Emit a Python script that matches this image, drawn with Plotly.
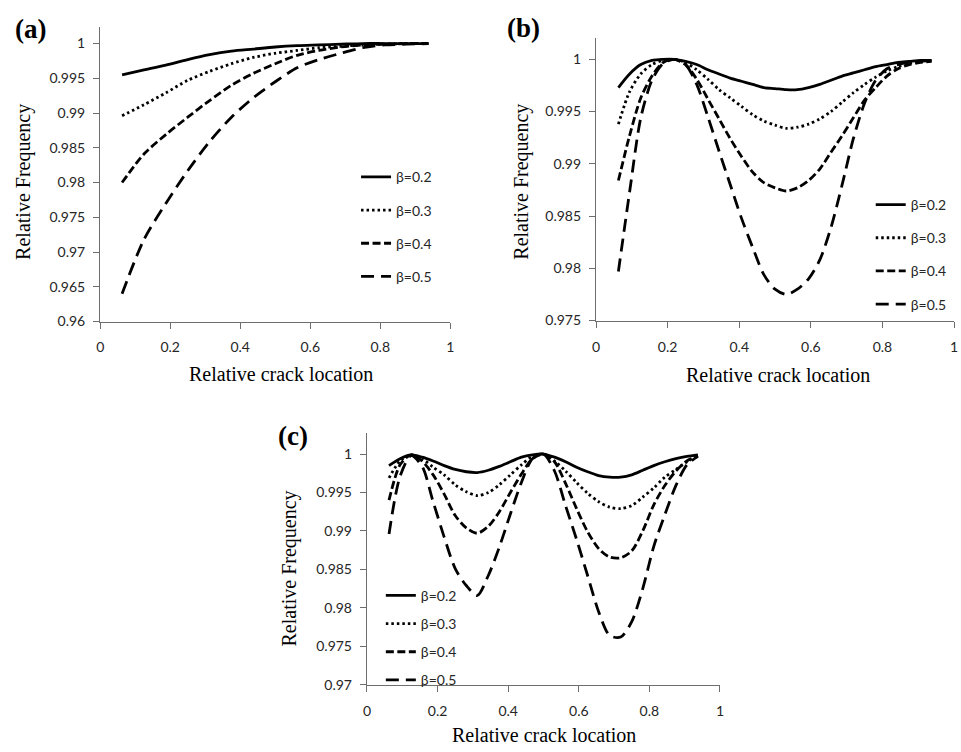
import plotly.graph_objects as go

# ---------------- data ----------------
x_a = [0.0625, 0.125, 0.1875, 0.25, 0.3125, 0.375, 0.4375, 0.5,
       0.5625, 0.625, 0.6875, 0.75, 0.8125, 0.875, 0.9375]
a_b02 = [0.9955, 0.9962, 0.9969, 0.9977, 0.9984, 0.9989, 0.9992, 0.9995,
         0.9997, 0.9998, 0.9999, 1.0000, 1.0000, 1.0000, 1.0000]
a_b03 = [0.9896, 0.9912, 0.9929, 0.9947, 0.9960, 0.9971, 0.9980, 0.9986,
         0.9990, 0.9994, 0.9996, 0.9998, 0.9999, 1.0000, 1.0000]
a_b04 = [0.9800, 0.9841, 0.9869, 0.9894, 0.9918, 0.9940, 0.9957, 0.9971,
         0.9983, 0.9990, 0.9995, 0.9998, 0.9999, 1.0000, 1.0000]
a_b05 = [0.9640, 0.9718, 0.9770, 0.9817, 0.9859, 0.9894, 0.9922, 0.9945,
         0.9965, 0.9977, 0.9986, 0.9994, 0.9998, 0.9999, 1.0000]

x_bc = [0.0625, 0.09375, 0.125, 0.15625, 0.1875, 0.21875, 0.25, 0.28125,
        0.3125, 0.34375, 0.375, 0.40625, 0.4375, 0.46875, 0.5, 0.53125,
        0.5625, 0.59375, 0.625, 0.65625, 0.6875, 0.71875, 0.75, 0.78125,
        0.8125, 0.84375, 0.875, 0.90625, 0.9375]

b_b02 = [0.9973, 0.9986, 0.9995, 0.9999, 1.0000, 1.0000, 0.9998, 0.9995,
         0.9990, 0.9986, 0.9982, 0.9979, 0.9976, 0.9973, 0.9972, 0.9971,
         0.9971, 0.9973, 0.9976, 0.9980, 0.9984, 0.9987, 0.9990, 0.9993,
         0.9995, 0.9997, 0.9998, 0.9999, 0.9999]
b_b03 = [0.9938, 0.9969, 0.9986, 0.9995, 0.9999, 1.0000, 0.9997, 0.9990,
         0.9981, 0.9971, 0.9963, 0.9955, 0.9947, 0.9941, 0.9937, 0.9934,
         0.9935, 0.9938, 0.9943, 0.9950, 0.9959, 0.9968, 0.9976, 0.9983,
         0.9989, 0.9993, 0.9996, 0.9998, 0.9999]
b_b04 = [0.9884, 0.9927, 0.9963, 0.9984, 0.9997, 1.0000, 0.9995, 0.9981,
         0.9962, 0.9943, 0.9924, 0.9907, 0.9892, 0.9882, 0.9877, 0.9874,
         0.9877, 0.9884, 0.9895, 0.9911, 0.9927, 0.9944, 0.9961, 0.9973,
         0.9984, 0.9991, 0.9995, 0.9997, 0.9998]
b_b05 = [0.9797, 0.9873, 0.9944, 0.9980, 0.9996, 1.0000, 0.9995, 0.9976,
         0.9945, 0.9912, 0.9880, 0.9848, 0.9820, 0.9794, 0.9780, 0.9775,
         0.9780, 0.9790, 0.9808, 0.9839, 0.9880, 0.9924, 0.9958, 0.9980,
         0.9991, 0.9995, 0.9997, 0.9998, 0.9999]

c_b02 = [0.9985, 0.9994, 0.9999, 0.9996, 0.9991, 0.9985, 0.9980, 0.9977,
         0.9976, 0.9979, 0.9984, 0.9990, 0.9996, 0.9999, 1.0000, 0.9996,
         0.9990, 0.9983, 0.9977, 0.9972, 0.9970, 0.9970, 0.9973, 0.9979,
         0.9985, 0.9990, 0.9994, 0.9997, 0.9999]
c_b03 = [0.9969, 0.9991, 0.9999, 0.9994, 0.9983, 0.9973, 0.9960, 0.9951,
         0.9946, 0.9950, 0.9960, 0.9973, 0.9986, 0.9997, 1.0000, 0.9991,
         0.9978, 0.9963, 0.9949, 0.9938, 0.9931, 0.9929, 0.9933, 0.9944,
         0.9956, 0.9970, 0.9980, 0.9990, 0.9998]
c_b04 = [0.9940, 0.9986, 0.9999, 0.9991, 0.9973, 0.9948, 0.9920, 0.9904,
         0.9897, 0.9906, 0.9925, 0.9950, 0.9974, 0.9994, 1.0000, 0.9990,
         0.9962, 0.9929, 0.9899, 0.9877, 0.9866, 0.9865, 0.9874, 0.9900,
         0.9934, 0.9959, 0.9978, 0.9991, 0.9998]
c_b05 = [0.9896, 0.9971, 0.9998, 0.9984, 0.9938, 0.9892, 0.9851, 0.9829,
         0.9816, 0.9842, 0.9879, 0.9922, 0.9963, 0.9994, 1.0000, 0.9978,
         0.9933, 0.9889, 0.9842, 0.9795, 0.9764, 0.9762, 0.9782, 0.9825,
         0.9880, 0.9921, 0.9959, 0.9986, 0.9997]

series_names = ["β=0.2", "β=0.3", "β=0.4", "β=0.5"]
x_tickvals = [0, 0.2, 0.4, 0.6, 0.8, 1]
x_ticktext = ["0", "0.2", "0.4", "0.6", "0.8", "1"]
ya_tickvals = [0.96, 0.965, 0.97, 0.975, 0.98, 0.985, 0.99, 0.995, 1.0]
ya_ticktext = ["0.96", "0.965", "0.97", "0.975", "0.98", "0.985", "0.99", "0.995", "1"]
yb_tickvals = [0.975, 0.98, 0.985, 0.99, 0.995, 1.0]
yb_ticktext = ["0.975", "0.98", "0.985", "0.99", "0.995", "1"]
yc_tickvals = [0.97, 0.975, 0.98, 0.985, 0.99, 0.995, 1.0]
yc_ticktext = ["0.97", "0.975", "0.98", "0.985", "0.99", "0.995", "1"]

# ---------------- styling ----------------
W, H = 961, 752
dashes = ["solid", "2.5px,3px", "8px,3.5px", "13px,7px"]
LW = 2.8
tick_font = dict(family="Lato, Open Sans, sans-serif", size=14, color="#262626")
serif = "Liberation Serif, Times New Roman, serif"
axis_col = "#6e6e6e"

fig = go.Figure()

panels = [
    ("x", "y", "legend", x_a, [a_b02, a_b03, a_b04, a_b05], "a"),
    ("x2", "y2", "legend2", x_bc, [b_b02, b_b03, b_b04, b_b05], "b"),
    ("x3", "y3", "legend3", x_bc, [c_b02, c_b03, c_b04, c_b05], "c"),
]
for xa, ya, lg, xs, ys_list, tag in panels:
    for i, ys in enumerate(ys_list):
        fig.add_trace(go.Scatter(
            x=xs, y=ys, mode="lines", name=series_names[i],
            line=dict(color="black", width=LW, dash=dashes[i], shape="spline", smoothing=0.8),
            xaxis=xa, yaxis=ya, legend=lg, legendgroup=f"{tag}{i}",
            showlegend=True,
        ))

def px_x(p):
    return p / W

def px_y(p):
    return 1 - p / H

def xaxis_cfg(x0, x1, anchor):
    return dict(domain=[px_x(x0), px_x(x1)], range=[0, 1], anchor=anchor,
                tickvals=x_tickvals, ticktext=x_ticktext, ticks="outside",
                ticklen=6, tickwidth=1.3, tickcolor=axis_col, showline=True,
                linecolor=axis_col, linewidth=1.3, showgrid=False, zeroline=False,
                tickfont=tick_font, ticklabelstandoff=7, fixedrange=True)

def yaxis_cfg(y_top, y_bot, rng, tv, tt, anchor):
    return dict(domain=[px_y(y_bot), px_y(y_top)], range=rng, anchor=anchor,
                tickvals=tv, ticktext=tt, ticks="outside", ticklen=6, tickwidth=1.3,
                tickcolor=axis_col, showline=True, linecolor=axis_col, linewidth=1.3,
                showgrid=False, zeroline=False, tickfont=tick_font,
                ticklabelstandoff=5, fixedrange=True)

legend_common = dict(font=dict(family="Lato, Open Sans, sans-serif", size=14, color="#262626"),
                     bgcolor="rgba(0,0,0,0)", xanchor="left", yanchor="top",
                     traceorder="grouped")

fig.update_layout(
    width=W, height=H, margin=dict(l=0, r=0, t=0, b=0),
    paper_bgcolor="white", plot_bgcolor="white",
    xaxis=xaxis_cfg(97, 450, "y"),
    yaxis=yaxis_cfg(27, 325, [0.96, 1.00242], ya_tickvals, ya_ticktext, "x"),
    xaxis2=xaxis_cfg(597, 958, "y2"),
    yaxis2=yaxis_cfg(38, 324, [0.975, 1.00208], yb_tickvals, yb_ticktext, "x2"),
    xaxis3=xaxis_cfg(366, 722, "y3"),
    yaxis3=yaxis_cfg(438, 692, [0.97, 1.0027], yc_tickvals, yc_ticktext, "x3"),
    legend=dict(x=px_x(355), y=px_y(163), tracegroupgap=12, **legend_common),
    legend2=dict(x=px_x(874), y=px_y(191), tracegroupgap=12, **legend_common),
    legend3=dict(x=px_x(380), y=px_y(586), tracegroupgap=7, **legend_common),
    showlegend=True,
)

annotations = [
    # panel labels
    dict(text="<b>(a)</b>", x=px_x(27), y=px_y(29)),
    dict(text="<b>(b)</b>", x=px_x(524), y=px_y(28)),
    dict(text="<b>(c)</b>", x=px_x(291), y=px_y(441)),
]
for a in annotations:
    a.update(xref="paper", yref="paper", showarrow=False, xanchor="center", yanchor="middle",
             font=dict(family=serif, size=27, color="black"))

titles = [
    dict(text="Relative Frequency", x=px_x(19), y=px_y(184), textangle=-90),
    dict(text="Relative Frequency", x=px_x(521), y=px_y(184), textangle=-90),
    dict(text="Relative Frequency", x=px_x(288), y=px_y(575), textangle=-90),
    dict(text="Relative crack location", x=px_x(279), y=px_y(378)),
    dict(text="Relative crack location", x=px_x(781), y=px_y(379)),
    dict(text="Relative crack location", x=px_x(545), y=px_y(743)),
]
for t in titles:
    t.update(xref="paper", yref="paper", showarrow=False, xanchor="center", yanchor="middle",
             font=dict(family=serif, size=20, color="black"))

fig.update_layout(annotations=annotations + titles)

fig.write_html("out.html")
